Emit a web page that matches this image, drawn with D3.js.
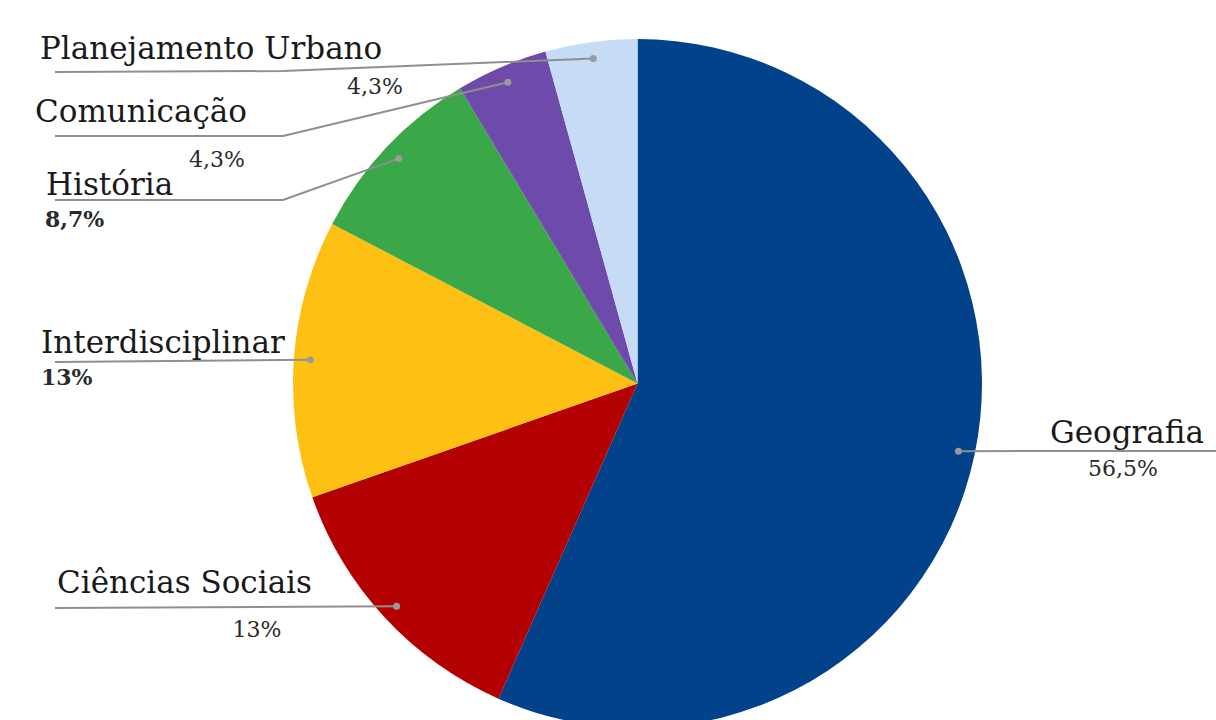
<!DOCTYPE html>
<html>
<head>
<meta charset="utf-8">
<script src="https://cdn.jsdelivr.net/npm/d3@7"></script>
<style>
  html, body { margin: 0; padding: 0; background: #fff; }
  svg { display: block; }
</style>
</head>
<body>
<div id="chart"></div>
<script>
// dados (percentuais)
const categories = ["Geografia", "Ciências Sociais", "Interdisciplinar", "História", "Comunicação", "Planejamento Urbano"];
const values = [56.5, 13, 13, 8.7, 4.3, 4.3];
const pctLabels = ["56,5%", "13%", "13%", "8,7%", "4,3%", "4,3%"];
const colours = ["#01428a", "#b30000", "#fdc013", "#3aa748", "#6e4aaa", "#c5dbf6"];

// posição dos rótulos (nome, percentual, pontos da linha guia)
const labelLayout = [
  { nx: 1204, ny: 443, anchor: "end", px: 1123, py: 476, pAnchor: "middle", bold: false, pts: [[1216, 451]] },
  { nx: 57, ny: 593, anchor: "start", px: 257, py: 637, pAnchor: "middle", bold: false, pts: [[55, 608]] },
  { nx: 41, ny: 353, anchor: "start", px: 41, py: 385, pAnchor: "start", bold: true, pts: [[55, 362]] },
  { nx: 46, ny: 195, anchor: "start", px: 45, py: 227, pAnchor: "start", bold: true, pts: [[283, 200], [55, 200]] },
  { nx: 35, ny: 122, anchor: "start", px: 217, py: 167, pAnchor: "middle", bold: false, pts: [[283, 136], [55, 136]] },
  { nx: 40, ny: 59, anchor: "start", px: 375, py: 94, pAnchor: "middle", bold: false, pts: [[283, 71], [55, 72]] }
];

const svgWidth = 1216;
const svgHeight = 720;
const cx = 637.5, cy = 383.5;
const radius = 344.5;

const svg = d3.select("#chart")
  .append("svg")
  .attr("width", svgWidth)
  .attr("height", svgHeight);

const g = svg.append("g")
  .attr("transform", `translate(${cx}, ${cy})`);

const slices = categories.map((c, i) => ({ name: c, value: values[i], i: i }));

const pie = d3.pie()
  .value(d => d.value)
  .sort(null);

const arc = d3.arc()
  .innerRadius(0)
  .outerRadius(radius);

// ponto de ancoragem da linha guia
const dotArc = d3.arc()
  .innerRadius(328)
  .outerRadius(328);

const arcs = pie(slices);

g.selectAll("path.slice")
  .data(arcs)
  .enter()
  .append("path")
  .attr("class", "slice")
  .attr("d", arc)
  .attr("fill", d => colours[d.data.i]);

// linhas guia
const line = d3.line();
svg.selectAll("path.leader")
  .data(arcs)
  .enter()
  .append("path")
  .attr("class", "leader")
  .attr("d", d => {
    const c = dotArc.centroid(d);
    const start = [c[0] + cx, c[1] + cy];
    return line([start].concat(labelLayout[d.data.i].pts));
  })
  .attr("fill", "none")
  .attr("stroke", "#8f8f8f")
  .attr("stroke-width", 2);

svg.selectAll("circle.dot")
  .data(arcs)
  .enter()
  .append("circle")
  .attr("class", "dot")
  .attr("cx", d => dotArc.centroid(d)[0] + cx)
  .attr("cy", d => dotArc.centroid(d)[1] + cy)
  .attr("r", 3.5)
  .attr("fill", "#9a9a9a");

// nomes das categorias
svg.selectAll("text.name")
  .data(slices)
  .enter()
  .append("text")
  .attr("class", "name")
  .attr("x", d => labelLayout[d.i].nx)
  .attr("y", d => labelLayout[d.i].ny)
  .attr("text-anchor", d => labelLayout[d.i].anchor)
  .style("font-family", "'DejaVu Serif', serif")
  .style("font-size", "31px")
  .style("fill", "#1a1a1a")
  .text(d => d.name);

// percentuais
svg.selectAll("text.pct")
  .data(slices)
  .enter()
  .append("text")
  .attr("class", "pct")
  .attr("x", d => labelLayout[d.i].px)
  .attr("y", d => labelLayout[d.i].py)
  .attr("text-anchor", d => labelLayout[d.i].pAnchor)
  .style("font-family", "'DejaVu Serif', serif")
  .style("font-size", "22px")
  .style("font-weight", d => labelLayout[d.i].bold ? "bold" : "normal")
  .style("fill", "#2a2a2a")
  .text(d => pctLabels[d.i]);
</script>
</body>
</html>
